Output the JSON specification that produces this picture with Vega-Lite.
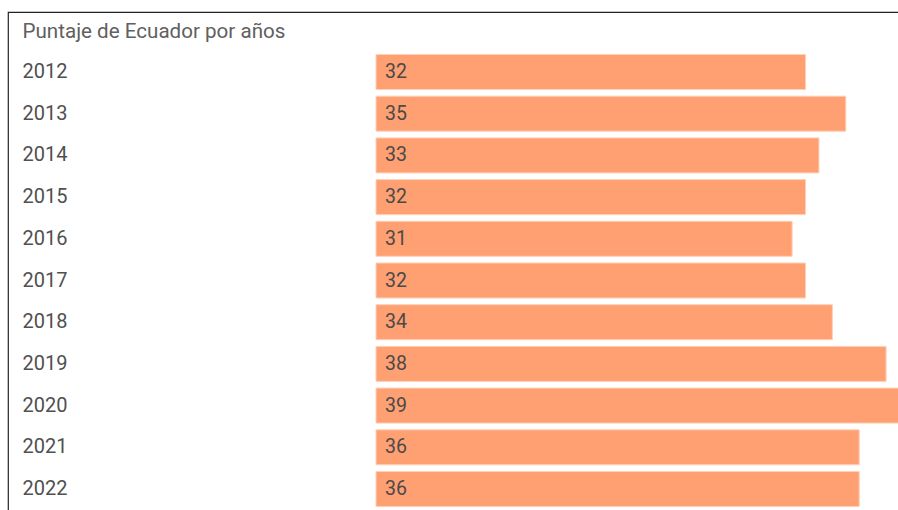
{
  "$schema": "https://vega.github.io/schema/vega-lite/v6.json",
  "width": 900,
  "height": 510,
  "autosize": "none",
  "padding": {"left": 8, "top": 12, "right": 0, "bottom": 0},
  "background": "white",
  "config": {
    "view": {"stroke": "#222", "strokeWidth": 1.2},
    "font": "Roboto"
  },
  "data": {
    "values": [
      {"year": "2012", "score": 32},
      {"year": "2013", "score": 35},
      {"year": "2014", "score": 33},
      {"year": "2015", "score": 32},
      {"year": "2016", "score": 31},
      {"year": "2017", "score": 32},
      {"year": "2018", "score": 34},
      {"year": "2019", "score": 38},
      {"year": "2020", "score": 39},
      {"year": "2021", "score": 36},
      {"year": "2022", "score": 36}
    ]
  },
  "encoding": {
    "y": {
      "field": "year",
      "type": "ordinal",
      "sort": null,
      "scale": {"range": [39.15, 497.85], "paddingInner": 0.16, "paddingOuter": 0.08},
      "axis": {
        "title": "Puntaje de Ecuador por años",
        "titleAngle": 0,
        "titleAlign": "left",
        "titleBaseline": "middle",
        "titleX": 14,
        "titleY": 19,
        "titleFont": "Roboto",
        "titleFontSize": 20.6,
        "titleFontWeight": "normal",
        "titleColor": "#606060",
        "domain": false,
        "ticks": false,
        "labelAlign": "left",
        "labelPadding": -14,
        "labelFont": "Roboto",
        "labelFontSize": 20,
        "labelColor": "#505050"
      }
    }
  },
  "layer": [
    {
      "mark": {"type": "bar", "color": "#ffa073", "stroke": "#ffd0b8", "strokeWidth": 1},
      "encoding": {
        "x": {
          "field": "score",
          "type": "quantitative",
          "scale": {"domain": [0, 39], "range": [368, 891.5], "nice": false},
          "axis": null
        }
      }
    },
    {
      "mark": {"type": "text", "align": "left", "baseline": "middle", "dx": 9, "font": "Roboto", "fontSize": 19.5, "color": "#4a4a4a"},
      "encoding": {
        "x": {"datum": 0, "type": "quantitative"},
        "text": {"field": "score", "type": "quantitative"}
      }
    }
  ]
}
